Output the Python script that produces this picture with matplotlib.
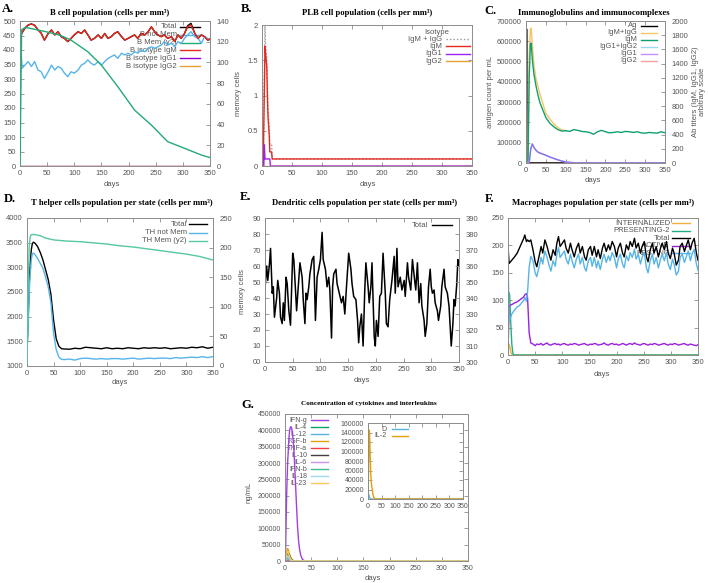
import numpy as np
import matplotlib
matplotlib.use("Agg")
import matplotlib.pyplot as plt

# =========================
# DATA
# =========================
# A. B cell population
a_days = [0, 4, 9, 15, 21, 27, 33, 39, 45, 52,
          58, 64, 70, 76, 82, 88, 94, 100, 107, 113,
          119, 125, 131, 137, 144, 150, 156, 162, 168, 174,
          180, 187, 193, 199, 205, 211, 217, 223, 230, 236,
          242, 248, 254, 260, 266, 272, 279, 285, 291, 297,
          303, 309, 315, 322, 328, 334, 340, 346, 350]
a_igm = [446, 460, 475, 486, 490, 485, 470, 458, 434, 457,
         469, 452, 463, 446, 440, 429, 440, 452, 463, 457,
         469, 452, 434, 440, 452, 440, 457, 440, 446, 457,
         463, 446, 434, 440, 446, 452, 440, 457, 452, 463,
         480, 463, 452, 446, 452, 440, 446, 429, 452, 440,
         457, 480, 486, 457, 440, 452, 446, 434, 438]
a_total = [446, 460, 475, 486, 490, 485, 470, 458, 434, 457,
           469, 452, 463, 446, 440, 429, 440, 452, 463, 457,
           469, 452, 434, 440, 452, 440, 457, 440, 446, 457,
           463, 446, 434, 440, 446, 452, 440, 457, 452, 463,
           480, 463, 452, 446, 452, 440, 446, 429, 452, 440,
           457, 484, 492, 457, 440, 452, 446, 434, 438]
a_notmem = [452, 337, 348, 360, 343, 360, 331, 325, 302, 325,
            348, 331, 343, 337, 320, 308, 325, 320, 331, 348,
            354, 366, 354, 348, 360, 348, 360, 371, 377, 383,
            371, 389, 383, 389, 383, 394, 389, 400, 394, 406,
            411, 406, 411, 417, 429, 417, 423, 411, 429, 423,
            440, 452, 463, 446, 440, 423, 446, 440, 434]
a_mem_days = [0, 3, 10, 25, 50, 75, 94, 125, 150, 180, 211, 242, 272, 303, 334, 350]
a_mem = [0, 131.6, 133.8, 132.2, 129.4, 126.0, 121.5, 110.3, 97.4, 76.7, 54.0, 39.5, 23.5, 17.1, 10.6, 8.1]
a_igg_days = [0, 350]
a_igg1 = [0, 0]
a_igg2 = [0, 0]

# B. PLB cell population
b_days = [0, 2, 5, 6, 8, 9, 10, 12, 13, 16, 17, 350]
b_igm = [0, 0, 1.7, 1.6, 1.4, 1.0, 0.7, 0.45, 0.2, 0.2, 0.1, 0.1]
b_igmg = [0, 0, 2.0, 1.7, 1.5, 1.1, 0.8, 0.55, 0.3, 0.3, 0.1, 0.1]
b_igg1_days = [0, 3, 4, 5, 13, 14, 350]
b_igg1 = [0, 0, 0.3, 0.1, 0.1, 0, 0]
b_igg2_days = [0, 350]
b_igg2 = [0, 0]

# C. Immunoglobulins and immunocomplexes
c_ag_days = [0, 1, 2, 350]
c_ag = [0, 660000, 0, 0]
c_igmg_days = [0, 5, 8, 11, 13, 16, 20, 25, 30, 35, 40, 50, 60, 70, 80, 90, 100]
c_igmg = [0, 0, 1500, 1880, 1900, 1650, 1380, 1190, 1080, 970, 880, 700, 620, 550, 500, 465, 455]
c_igm_days = [0, 5, 8, 11, 13, 16, 20, 25, 30, 35, 40, 50, 60, 70, 80, 90, 100,
              110, 120, 130, 140, 150, 160, 170, 180, 190, 200, 210, 220, 230, 240,
              250, 260, 270, 280, 290, 300, 310, 320, 330, 340, 350]
c_igm = [0, 0, 1200, 1680, 1690, 1450, 1250, 1090, 960, 850, 780, 640, 560, 510, 470, 450, 455,
         445, 470, 460, 445, 440, 430, 405, 440, 460, 440, 425, 430, 440, 430,
         445, 440, 430, 440, 425, 420, 430, 425, 420, 440, 425]
c_igg_days = [0, 8, 12, 16, 20, 25, 31, 40, 48, 60, 69, 80, 90, 100, 111, 125, 140, 350]
c_igg12 = [0, 0, 200, 268, 220, 180, 150, 130, 113, 85, 66, 45, 28, 15, 8, 3, 0, 0]
c_igg1 = [0, 0, 200, 268, 220, 180, 150, 130, 113, 85, 66, 45, 28, 15, 8, 3, 0, 0]
c_igg2_days = [0, 350]
c_igg2 = [0, 0]

# D. T helper cells
d_days = [0, 2, 5, 8, 10, 12, 15, 20, 25, 30,
          35, 40, 45, 50, 55, 60, 65, 70, 80, 90,
          100, 110, 120, 130, 140, 150, 160, 170, 180, 190,
          200, 210, 220, 230, 240, 250, 260, 270, 280, 290,
          300, 310, 320, 330, 340, 350]
d_total = [1300, 1900, 2900, 3350, 3480, 3510, 3490, 3420, 3300, 3150,
           2950, 2750, 2450, 1930, 1550, 1400, 1350, 1345, 1340, 1360,
           1350, 1380, 1370, 1360, 1350, 1370, 1350, 1360, 1350, 1370,
           1360, 1350, 1370, 1360, 1370, 1360, 1370, 1350, 1360, 1370,
           1360, 1380, 1370, 1390, 1360, 1380]
d_notmem = [1280, 1800, 2700, 3150, 3270, 3290, 3260, 3180, 3080, 2980,
            2800, 2600, 2280, 1660, 1330, 1180, 1135, 1130, 1140, 1120,
            1150, 1160, 1150, 1140, 1150, 1140, 1150, 1150, 1140, 1150,
            1160, 1140, 1150, 1160, 1150, 1160, 1160, 1150, 1170, 1160,
            1170, 1180, 1170, 1190, 1170, 1190]
d_mem_days = [0, 2, 4, 6, 8, 15, 25, 35, 50, 75, 100, 125, 150, 175, 200, 225, 250, 275, 300, 325, 350]
d_mem = [5, 120, 200, 218, 222, 222, 220, 216, 213, 211, 210, 208, 206, 203, 201, 198, 195, 192, 189, 185, 179]

# E. Dendritic cells
e_days = [0, 3, 5, 8, 10, 13, 15, 17, 21, 23,
          26, 28, 31, 33, 35, 38, 40, 43, 46, 50,
          52, 55, 57, 60, 63, 67, 69, 72, 74, 76,
          79, 81, 85, 88, 91, 94, 97, 100, 103, 105,
          109, 112, 115, 117, 120, 122, 124, 128, 130, 134,
          138, 141, 144, 147, 151, 155, 157, 160, 164, 167,
          169, 171, 174, 177, 180, 182, 186, 188, 191, 193,
          197, 199, 201, 204, 207, 210, 213, 217, 219, 222,
          225, 229, 233, 235, 238, 240, 244, 247, 251, 253,
          257, 259, 263, 266, 270, 272, 275, 278, 281, 283,
          287, 289, 292, 295, 298, 300, 302, 305, 307, 311,
          313, 317, 319, 323, 325, 329, 332, 336, 339, 341,
          343, 346, 348, 350]
e_total = [46, 60, 51, 61, 71, 43, 47, 28, 40, 51,
           43, 28, 24, 37, 26, 53, 49, 32, 23, 68,
           64, 45, 32, 47, 62, 53, 39, 24, 43, 39,
           47, 55, 64, 66, 26, 53, 58, 64, 81, 64,
           58, 47, 53, 45, 15, 47, 55, 58, 49, 43,
           37, 41, 30, 47, 68, 58, 49, 41, 39, 26,
           12, 22, 30, 10, 45, 62, 47, 37, 47, 62,
           16, 10, 26, 16, 41, 43, 68, 43, 24, 22,
           39, 51, 66, 43, 71, 47, 53, 45, 51, 41,
           62, 53, 45, 64, 51, 45, 62, 37, 49, 35,
           26, 16, 24, 47, 58, 47, 43, 45, 37, 32,
           26, 35, 47, 58, 47, 43, 35, 10, 24, 39,
           35, 49, 64, 60]
e_left_ticks = ["00", "10", "20", "30", "40", "50", "60", "70", "80", "90"]

# F. Macrophages
f_days = [0, 2, 7, 12, 17, 21, 25, 29, 31, 34,
          36, 39, 42, 46, 50, 53, 57, 61, 64, 68,
          72, 75, 79, 83, 87, 90, 93, 96, 100, 104,
          107, 111, 115, 118, 122, 126, 130, 133, 137, 141,
          144, 148, 152, 155, 159, 163, 166, 170, 174, 177,
          181, 185, 188, 192, 196, 200, 203, 207, 211, 214,
          218, 222, 225, 229, 233, 236, 240, 244, 247, 251,
          255, 258, 262, 266, 269, 273, 277, 281, 284, 288,
          292, 295, 299, 303, 306, 310, 314, 317, 321, 325,
          328, 332, 336, 339, 343, 347, 350]
f_total = [198, 167, 173, 179, 186, 195, 204, 213, 219, 207,
           210, 207, 210, 192, 170, 161, 179, 198, 186, 210,
           198, 186, 173, 192, 182, 204, 216, 198, 204, 210,
           195, 186, 204, 192, 179, 195, 204, 186, 198, 179,
           173, 192, 198, 182, 198, 179, 192, 176, 195, 204,
           189, 201, 192, 207, 198, 179, 195, 204, 186, 179,
           201, 192, 207, 198, 213, 195, 204, 186, 198, 207,
           179, 170, 192, 204, 186, 198, 179, 195, 204, 192,
           207, 186, 176, 195, 186, 164, 173, 198, 204, 189,
           198, 210, 192, 204, 213, 186, 173]
f_resting = [185, 60, 75, 82, 88, 90, 95, 100, 105, 98,
             115, 160, 180, 172, 150, 143, 160, 178, 166, 190,
             178, 166, 153, 172, 162, 184, 196, 178, 184, 190,
             175, 166, 184, 172, 159, 175, 184, 166, 178, 159,
             153, 172, 178, 162, 178, 159, 172, 156, 175, 184,
             169, 181, 172, 187, 178, 159, 175, 184, 166, 159,
             181, 172, 187, 178, 193, 175, 184, 166, 178, 187,
             159, 150, 172, 184, 166, 178, 159, 175, 184, 172,
             187, 166, 156, 175, 166, 146, 153, 178, 184, 169,
             178, 190, 172, 184, 193, 166, 155]
f_active = [0, 90, 92, 95, 97, 100, 103, 106, 110, 112,
            105, 40, 22, 20, 17, 20, 19, 21, 18, 20,
            22, 19, 18, 20, 21, 19, 20, 18, 20, 21,
            19, 18, 20, 19, 21, 20, 18, 19, 20, 21,
            19, 18, 20, 19, 21, 20, 18, 19, 20, 22,
            19, 18, 20, 21, 19, 20, 18, 19, 21, 20,
            18, 20, 21, 19, 22, 20, 19, 18, 20, 21,
            19, 18, 20, 19, 21, 20, 18, 19, 20, 21,
            19, 18, 20, 19, 21, 20, 18, 19, 20, 21,
            19, 18, 20, 19, 18, 17, 19]
f_pres_days = [0, 1, 3, 5, 7, 9, 11, 350]
f_pres = [0, 115, 110, 60, 20, 3, 0, 0]
f_int_days = [0, 1, 2, 4, 6, 8, 350]
f_int = [0, 10, 20, 12, 3, 0, 0]

# G. Cytokines and interleukins
g_ifng_days = [0, 1, 2, 3, 4, 5, 6, 7, 8, 9, 10, 11, 12, 13, 14, 15, 16, 17, 18, 19,
               20, 22, 24, 26, 28, 30, 33, 36, 40, 350]
g_ifng = [0, 20000, 110000, 192000, 250000, 300000, 330000, 360000, 385000, 400000,
          408000, 411000, 410000, 405000, 395000, 380000, 365000, 340000, 310000, 275000,
          240000, 170000, 105000, 60000, 35000, 18000, 6000, 1500, 0, 0]
g_days = [0, 2, 4, 5, 6, 8, 10, 12, 15, 20, 350]
g_il4 = [0, 500, 1500, 2000, 1800, 1200, 600, 200, 0, 0, 0]
g_il12 = [0, 10000, 18000, 20000, 17000, 10000, 5000, 2000, 500, 0, 0]
g_tgfb = [0, 15000, 33000, 38000, 35000, 25000, 14000, 7000, 2000, 0, 0]
g_tnfa = [0, 1000, 2500, 3000, 2500, 1500, 800, 300, 0, 0, 0]
g_il10 = [0, 8000, 20000, 24000, 25000, 20000, 12000, 6000, 1500, 0, 0]
g_il6 = [0, 2000, 4000, 5000, 4500, 3000, 1500, 500, 0, 0, 0]
g_ifnb = [0, 5000, 9000, 10000, 9000, 5000, 2500, 1000, 0, 0, 0]
g_il18 = [0, 8000, 14000, 15000, 13000, 8000, 4000, 1500, 0, 0, 0]
g_il23 = [0, 10000, 25000, 30000, 27000, 18000, 9000, 4000, 1000, 0, 0]
g_il2_days = [0, 2, 4, 5, 6, 8, 10, 12, 15, 20, 25, 350]
g_il2 = [0, 60000, 135000, 145000, 135000, 95000, 54000, 35000, 22000, 5000, 0, 0]
g_d_days = [0, 1, 2, 4, 6, 8, 10, 350]
g_d = [0, 6000, 10000, 7000, 3500, 1200, 0, 0]

# =========================
# STYLE HELPERS
# =========================
W, H = 708, 583
FS = 5.5
TXT = "#555555"
FRAME = "#8c8c8c"
SANS = "Liberation Sans"
SERIF = "Liberation Serif"
LW = 1.0

plt.rcParams["font.family"] = SANS


def rect(l, t, r, b):
    return [l / W, 1 - b / H, (r - l) / W, (b - t) / H]


def ftext(x, y, s, **kw):
    fig.text(x / W, 1 - y / H, s, **kw)


def frame(ax, right=True, fs=FS):
    for s in ax.spines.values():
        s.set_color(FRAME)
        s.set_linewidth(0.7)
    ax.tick_params(direction="in", length=3, width=0.6, color=FRAME,
                   labelcolor=TXT, labelsize=fs, pad=3, top=True, right=right)
    ax.set_xlim(0, 350)
    ax.set_xticks(range(0, 351, 50))


def twin(ax):
    ax2 = ax.twinx()
    for s in ax2.spines.values():
        s.set_visible(False)
    ax2.tick_params(direction="in", length=3, width=0.6, color=FRAME,
                    labelcolor=TXT, labelsize=FS, pad=5)
    return ax2


def key(ax, entries, xt, y0, dy, x0, x1, fs=FS):
    for i, (lab, col, ls) in enumerate(entries):
        y = y0 - i * dy
        ax.text(xt, y, lab, transform=ax.transAxes, ha="right", va="center",
                fontsize=fs, color=TXT, zorder=1)
        ax.plot([x0, x1], [y, y], transform=ax.transAxes, color=col, ls=ls,
                lw=LW, zorder=1, clip_on=False)


def title(x, y, s, size=6.2):
    ftext(x, y, s, ha="center", va="center", fontsize=size,
          fontweight="bold", family=SERIF)


def letter(x, y, s):
    ftext(x, y, s, ha="left", va="center", fontsize=9,
          fontweight="bold", family=SERIF)


def ylab(x, y, s, **kw):
    ftext(x, y, s, ha="center", va="center", rotation=90, fontsize=FS,
          color=TXT, **kw)


fig = plt.figure(figsize=(7.08, 5.83), dpi=100)
fig.patch.set_facecolor("white")

# =========================
# A. B CELL POPULATION
# =========================
ax = fig.add_axes(rect(20, 21, 210, 166))
frame(ax, right=False)
ax2 = twin(ax)
ax.plot(a_days, a_total, color="black", lw=LW)
ax.plot(a_days, a_notmem, color="#56b4e9", lw=LW)
ax.plot(a_days, a_igm, color="#e8281e", lw=LW)
ax.plot(a_igg_days, a_igg1, color="#9400d3", lw=LW)
ax.plot(a_igg_days, a_igg2, color="#e8a030", lw=LW)
ax2.plot(a_mem_days, a_mem, color="#22aa78", lw=LW)
ax.set_ylim(0, 500)
ax.set_yticks(range(0, 501, 50))
ax2.set_ylim(0, 140)
ax2.set_yticks(range(0, 141, 20))
key(ax, [("Total", "black", "-"), ("B not Mem", "#56b4e9", "-"),
         ("B Mem (y2)", "#22aa78", "-"), ("B isotype IgM", "#e8281e", "-"),
         ("B isotype IgG1", "#9400d3", "-"), ("B isotype IgG2", "#e8a030", "-")],
    0.826, 0.959, 0.054, 0.842, 0.947)
letter(2, 9, "A.")
title(110, 13, "B cell population (cells per mm³)")
ylab(238, 93, "memory cells")
ftext(112, 185, "days", ha="center", va="center", fontsize=FS, color=TXT)

# =========================
# B. PLB CELL POPULATION
# =========================
ax = fig.add_axes(rect(262, 25, 472, 166))
frame(ax)
ax.plot(b_days, b_igmg, color="#999999", lw=LW, ls=(0, (1, 1.5)))
ax.plot(b_days, b_igm, color="#e8281e", lw=LW)
ax.plot(b_igg1_days, b_igg1, color="#a020f0", lw=LW)
ax.plot(b_igg2_days, b_igg2, color="#e8a030", lw=LW)
ax.set_ylim(0, 2)
ax.set_yticks([0, 0.5, 1, 1.5, 2])
ax.set_yticklabels(["0", "0.5", "1", "1.5", "2"])
ax.text(0.833, 0.95, "Isotype", transform=ax.transAxes, ha="center",
        va="center", fontsize=FS, color=TXT)
key(ax, [("IgM + IgG", "#999999", (0, (1, 1.5))), ("IgM", "#e8281e", "-"),
         ("IgG1", "#a020f0", "-"), ("IgG2", "#e8a030", "-")],
    0.857, 0.90, 0.052, 0.876, 0.99)
letter(241, 9, "B.")
title(367, 13, "PLB cell population (cells per mm³)")
ftext(368, 185, "days", ha="center", va="center", fontsize=FS, color=TXT)

# =========================
# C. IMMUNOGLOBULINS
# =========================
ax = fig.add_axes(rect(526, 21, 665, 163))
frame(ax, right=False)
ax2 = twin(ax)
ax.plot(c_ag_days, c_ag, color="black", lw=1.3)
ax2.plot(c_igmg_days, c_igmg, color="#f5c463", lw=LW)
ax2.plot(c_igm_days, c_igm, color="#10a070", lw=LW)
ax2.plot(c_igg_days, c_igg12, color="#9fd8f2", lw=LW)
ax2.plot(c_igg_days, c_igg1, color="#8c6cf0", lw=LW)
ax2.plot(c_igg2_days, c_igg2, color="#f4a0a0", lw=LW)
ax.set_ylim(0, 700000)
ax.set_yticks(range(0, 700001, 100000))
ax2.set_ylim(0, 2000)
ax2.set_yticks(range(0, 2001, 200))
key(ax, [("Ag", "black", "-"), ("IgM+IgG", "#f5c463", "-"), ("IgM", "#10a070", "-"),
         ("IgG1+IgG2", "#9fd8f2", "-"), ("IgG1", "#c090f8", "-"), ("IgG2", "#f4a0a0", "-")],
    0.799, 0.965, 0.049, 0.827, 0.942)
letter(484, 11, "C.")
title(594, 13, "Immunoglobulins and immunocomplexes")
ylab(491, 92, "antigen count per mL")
ylab(699, 92, "Ab titers (IgM, IgG1, IgG2)\narbitrary scale", linespacing=1.0)
ftext(593, 181, "days", ha="center", va="center", fontsize=FS, color=TXT)

# =========================
# D. T HELPER CELLS
# =========================
ax = fig.add_axes(rect(27, 218, 213, 366))
frame(ax, right=False)
ax2 = twin(ax)
ax.plot(d_days, d_total, color="black", lw=LW)
ax.plot(d_days, d_notmem, color="#56b4e9", lw=LW)
ax2.plot(d_mem_days, d_mem, color="#55c8a0", lw=LW)
ax.set_ylim(1000, 4000)
ax.set_yticks(range(1000, 4001, 500))
ax2.set_ylim(0, 250)
ax2.set_yticks(range(0, 251, 50))
key(ax, [("Total", "black", "-"), ("TH not Mem", "#56b4e9", "-"),
         ("TH Mem (y2)", "#55c8a0", "-")],
    0.86, 0.957, 0.055, 0.871, 0.968)
letter(4, 199, "D.")
title(122, 203, "T helper cells population per state (cells per mm³)")
ftext(120, 382, "days", ha="center", va="center", fontsize=FS, color=TXT)

# =========================
# E. DENDRITIC CELLS
# =========================
ax = fig.add_axes(rect(265, 218, 459, 362))
frame(ax, right=False)
ax2 = twin(ax)
ax.plot(e_days, e_total, color="black", lw=1.1)
ax.set_ylim(0, 90)
ax.set_yticks(range(0, 91, 10))
ax.set_yticklabels(e_left_ticks)
ax2.set_ylim(300, 390)
ax2.set_yticks(range(300, 391, 10))
key(ax, [("Total", "black", "-")], 0.84, 0.951, 0.05, 0.861, 0.964)
letter(240, 197, "E.")
title(365, 203, "Dendritic cells population per state (cells per mm³)")
ylab(243, 292, "memory cells")
ftext(362, 381, "days", ha="center", va="center", fontsize=FS, color=TXT)

# =========================
# F. MACROPHAGES
# =========================
ax = fig.add_axes(rect(508, 218, 698, 355))
frame(ax)
ax.plot(f_int_days, f_int, color="#f0b040", lw=LW)
ax.plot(f_pres_days, f_pres, color="#20b080", lw=LW)
ax.plot(f_days, f_total, color="black", lw=LW)
ax.plot(f_days, f_active, color="#9a20e0", lw=LW)
ax.plot(f_days, f_resting, color="#56b4e9", lw=LW)
ax.set_ylim(0, 250)
ax.set_yticks(range(0, 251, 50))
key(ax, [("INTERNALIZED", "#f0b040", "-"), ("PRESENTING-2", "#20b080", "-"),
         ("Total", "black", "-"), ("ACTIVE", "#9a20e0", "-"),
         ("RESTING", "#56b4e9", "-")],
    0.853, 0.961, 0.055, 0.863, 0.958)
letter(485, 199, "F.")
title(603, 203, "Macrophages population per state (cells per mm³)")
ftext(602, 374, "days", ha="center", va="center", fontsize=FS, color=TXT)

# =========================
# G. CYTOKINES
# =========================
g_series = [("IFN-g", g_ifng_days, g_ifng, "#a040e0"),
            ("IL-4", g_days, g_il4, "#009e73"),
            ("IL-12", g_days, g_il12, "#56b4e9"),
            ("TGF-b", g_days, g_tgfb, "#e69f00"),
            ("TNF-a", g_days, g_tnfa, "#f04040"),
            ("IL-10", g_days, g_il10, "#404040"),
            ("IL-6", g_days, g_il6, "#d090f0"),
            ("IFN-b", g_days, g_ifnb, "#40c090"),
            ("IL-18", g_days, g_il18, "#a0d8f0"),
            ("IL-23", g_days, g_il23, "#f8c860")]
GFS = 5.0
ax = fig.add_axes(rect(285, 414, 468, 561))
frame(ax, fs=GFS)
for lab, dd, vv, col in g_series:
    ax.plot(dd, vv, color=col, lw=LW)
ax.set_ylim(0, 450000)
ax.set_yticks(range(0, 450001, 50000))
key(ax, [(lab, col, "-") for lab, dd, vv, col in g_series],
    0.12, 0.959, 0.0476, 0.142, 0.235, fs=5.0)
letter(241, 405, "G.")
title(369, 404, "Concentration of cytokines and interleukins", size=5.2)
ylab(249, 492, "ng/mL")
ftext(373, 578, "days", ha="center", va="center", fontsize=FS, color=TXT)

axi = fig.add_axes(rect(368, 423, 463, 499))
frame(axi, fs=GFS)
axi.plot(g_d_days, g_d, color="#56b4e9", lw=LW)
axi.plot(g_il2_days, g_il2, color="#e6a000", lw=LW)
axi.set_ylim(0, 160000)
axi.set_yticks(range(0, 160001, 20000))
key(axi, [("D", "#56b4e9", "-"), ("IL-2", "#e6a000", "-")],
    0.2, 0.917, 0.088, 0.25, 0.42, fs=GFS)

fig.savefig("out.png", dpi=100)
